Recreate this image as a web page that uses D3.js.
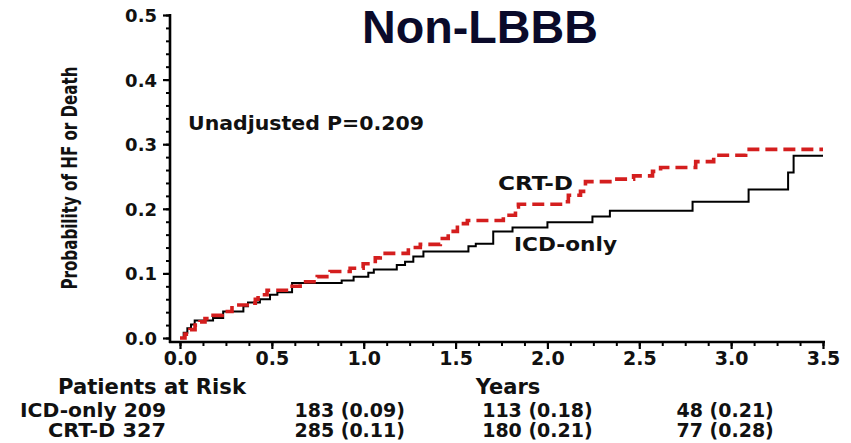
<!DOCTYPE html>
<html>
<head>
<meta charset="utf-8">
<script src="https://cdn.jsdelivr.net/npm/d3@7"></script>
<style>
  html, body { margin: 0; padding: 0; background: #fff; }
  svg { display: block; }
  .lab { font-family: "DejaVu Sans", sans-serif; font-weight: bold; fill: #111; }
</style>
</head>
<body>
<svg id="chart" width="851" height="443"></svg>
<script>
// Kaplan-Meier cumulative incidence of HF or death, non-LBBB patients
const icdTimes = [0, 0.02, 0.04, 0.06, 0.08, 0.18, 0.235, 0.345, 0.37, 0.435, 0.49, 0.53, 0.61, 0.88, 0.945, 1.025, 1.055, 1.18, 1.225, 1.27, 1.325, 1.57, 1.61, 1.705, 1.81, 2.0, 2.245, 2.34, 2.79, 3.095, 3.31, 3.34, 3.5];
const icdProbs = [0, 0.008, 0.015, 0.021, 0.027, 0.031, 0.041, 0.049, 0.055, 0.06, 0.067, 0.071, 0.085, 0.089, 0.095, 0.101, 0.106, 0.113, 0.118, 0.126, 0.134, 0.142, 0.146, 0.165, 0.171, 0.179, 0.188, 0.197, 0.211, 0.23, 0.256, 0.282, 0.282];

const crtTimes = [0, 0.027, 0.054, 0.082, 0.109, 0.136, 0.18, 0.229, 0.283, 0.381, 0.41, 0.425, 0.474, 0.6, 0.654, 0.747, 0.817, 0.926, 0.997, 1.063, 1.09, 1.243, 1.308, 1.417, 1.46, 1.51, 1.564, 1.76, 1.826, 1.842, 2.071, 2.114, 2.18, 2.207, 2.36, 2.469, 2.572, 2.616, 2.807, 2.905, 3.079, 3.5];
const crtProbs = [0, 0.006, 0.013, 0.02, 0.025, 0.03, 0.035, 0.041, 0.051, 0.054, 0.06, 0.067, 0.074, 0.08, 0.087, 0.095, 0.103, 0.108, 0.115, 0.124, 0.131, 0.14, 0.145, 0.154, 0.165, 0.177, 0.182, 0.19, 0.203, 0.207, 0.211, 0.221, 0.227, 0.242, 0.246, 0.251, 0.258, 0.264, 0.273, 0.283, 0.292, 0.292];

const xTicks = [0, 0.5, 1.0, 1.5, 2.0, 2.5, 3.0, 3.5];
const yTicks = [0, 0.1, 0.2, 0.3, 0.4, 0.5];

const riskYears = [1, 2, 3];
const riskGroups = ["ICD-only 209", "CRT-D 327"];
const icdRisk = ["183 (0.09)", "113 (0.18)", "48 (0.21)"];
const crtRisk = ["285 (0.11)", "180 (0.21)", "77 (0.28)"];

const titleText = "Non-LBBB";
const pText = "Unadjusted P=0.209";

const svg = d3.select("#chart");

const x = d3.scaleLinear().domain([0, 3.5]).range([180, 823]);
const y = d3.scaleLinear().domain([0, 0.5]).range([338, 15]);

// title
svg.append("text")
  .attr("x", 480).attr("y", 43)
  .attr("text-anchor", "middle")
  .attr("textLength", 236)
  .attr("lengthAdjust", "spacingAndGlyphs")
  .style("font-family", "'Liberation Sans', Arial, sans-serif")
  .style("font-weight", "bold")
  .style("font-size", "46px")
  .style("fill", "#0a0a2a")
  .text(titleText);

// y axis: major ticks every 0.1, minor every 0.02
const yAxisG = svg.append("g").attr("transform", "translate(170,0)");
yAxisG.call(d3.axisLeft(y).tickValues(d3.range(0, 0.5001, 0.02)).tickSize(4).tickFormat(""))
  .call(g => g.select(".domain").remove())
  .call(g => g.selectAll("line").attr("stroke", "#000").attr("stroke-width", 2));
yAxisG.append("g")
  .call(d3.axisLeft(y).tickValues(yTicks).tickSize(7).tickPadding(6).tickFormat(d3.format(".1f")))
  .call(g => g.select(".domain").remove())
  .call(g => g.selectAll("line").attr("stroke", "#000").attr("stroke-width", 2.2))
  .call(g => g.selectAll("text").attr("class", "lab").style("font-size", "18px").attr("dy", "0.36em"));
yAxisG.append("line").attr("x1", 0).attr("x2", 0).attr("y1", y(0.5) - 1).attr("y2", 343)
  .attr("stroke", "#000").attr("stroke-width", 2.6);

// x axis: major ticks every 0.5, minor every 0.125
const xAxisG = svg.append("g").attr("transform", "translate(0,342)");
xAxisG.call(d3.axisBottom(x).tickValues(d3.range(0, 3.5001, 0.125)).tickSize(4).tickFormat(""))
  .call(g => g.select(".domain").remove())
  .call(g => g.selectAll("line").attr("stroke", "#000").attr("stroke-width", 2));
xAxisG.append("g")
  .call(d3.axisBottom(x).tickValues(xTicks).tickSize(7).tickPadding(3).tickFormat(d3.format(".1f")))
  .call(g => g.select(".domain").remove())
  .call(g => g.selectAll("line").attr("stroke", "#000").attr("stroke-width", 2.2))
  .call(g => g.selectAll("text").attr("class", "lab").style("font-size", "19px"));
xAxisG.append("line").attr("x1", 169).attr("x2", 825).attr("y1", 0).attr("y2", 0)
  .attr("stroke", "#000").attr("stroke-width", 2.6);

// y axis title (narrowed horizontally to a condensed look)
svg.append("text")
  .attr("class", "lab")
  .attr("transform", "translate(77,178) rotate(-90) scale(0.72,1)")
  .attr("text-anchor", "middle")
  .style("font-size", "21px")
  .text("Probability of HF or Death");

// curves
const line = d3.line().x(d => x(d[0])).y(d => y(d[1])).curve(d3.curveStepAfter);
const icdData = icdTimes.map((t, i) => [t, icdProbs[i]]);
const crtData = crtTimes.map((t, i) => [t, crtProbs[i]]);

svg.append("path").datum(icdData)
  .attr("d", line)
  .attr("fill", "none").attr("stroke", "#000").attr("stroke-width", 2);

svg.append("path").datum(crtData)
  .attr("d", line)
  .attr("fill", "none").attr("stroke", "#d41e1e").attr("stroke-width", 3.6)
  .attr("stroke-dasharray", "12,6");

// in-plot annotations
svg.append("text").attr("class", "lab").attr("x", 188).attr("y", 130)
  .attr("textLength", 236).attr("lengthAdjust", "spacingAndGlyphs")
  .style("font-size", "20px").text(pText);
svg.append("text").attr("class", "lab").attr("x", 498).attr("y", 190)
  .attr("textLength", 75).attr("lengthAdjust", "spacingAndGlyphs")
  .style("font-size", "20px").text("CRT-D");
svg.append("text").attr("class", "lab").attr("x", 514).attr("y", 251)
  .attr("textLength", 103).attr("lengthAdjust", "spacingAndGlyphs")
  .style("font-size", "20px").text("ICD-only");

// axis caption and risk table
svg.append("text").attr("class", "lab").attr("x", 152).attr("y", 394)
  .attr("text-anchor", "middle").attr("textLength", 188).attr("lengthAdjust", "spacingAndGlyphs")
  .style("font-size", "21px").text("Patients at Risk");
svg.append("text").attr("class", "lab").attr("x", 508).attr("y", 394)
  .attr("text-anchor", "middle").style("font-size", "21px").text("Years");

const rows = [icdRisk, crtRisk];
rows.forEach((vals, r) => {
  const yy = 417 + r * 20;
  svg.append("text").attr("class", "lab").attr("x", 166).attr("y", yy)
    .attr("text-anchor", "end").attr("textLength", r === 0 ? 146 : 118).attr("lengthAdjust", "spacingAndGlyphs")
    .style("font-size", "19px").text(riskGroups[r]);
  svg.selectAll(null).data(riskYears).enter().append("text")
    .attr("class", "lab")
    .attr("x", (d) => x(d) - 14 + (d - 1) * 4)
    .attr("y", yy)
    .attr("text-anchor", "middle")
    .style("font-size", "19px")
    .text((d, i) => vals[i]);
});
</script>
</body>
</html>
